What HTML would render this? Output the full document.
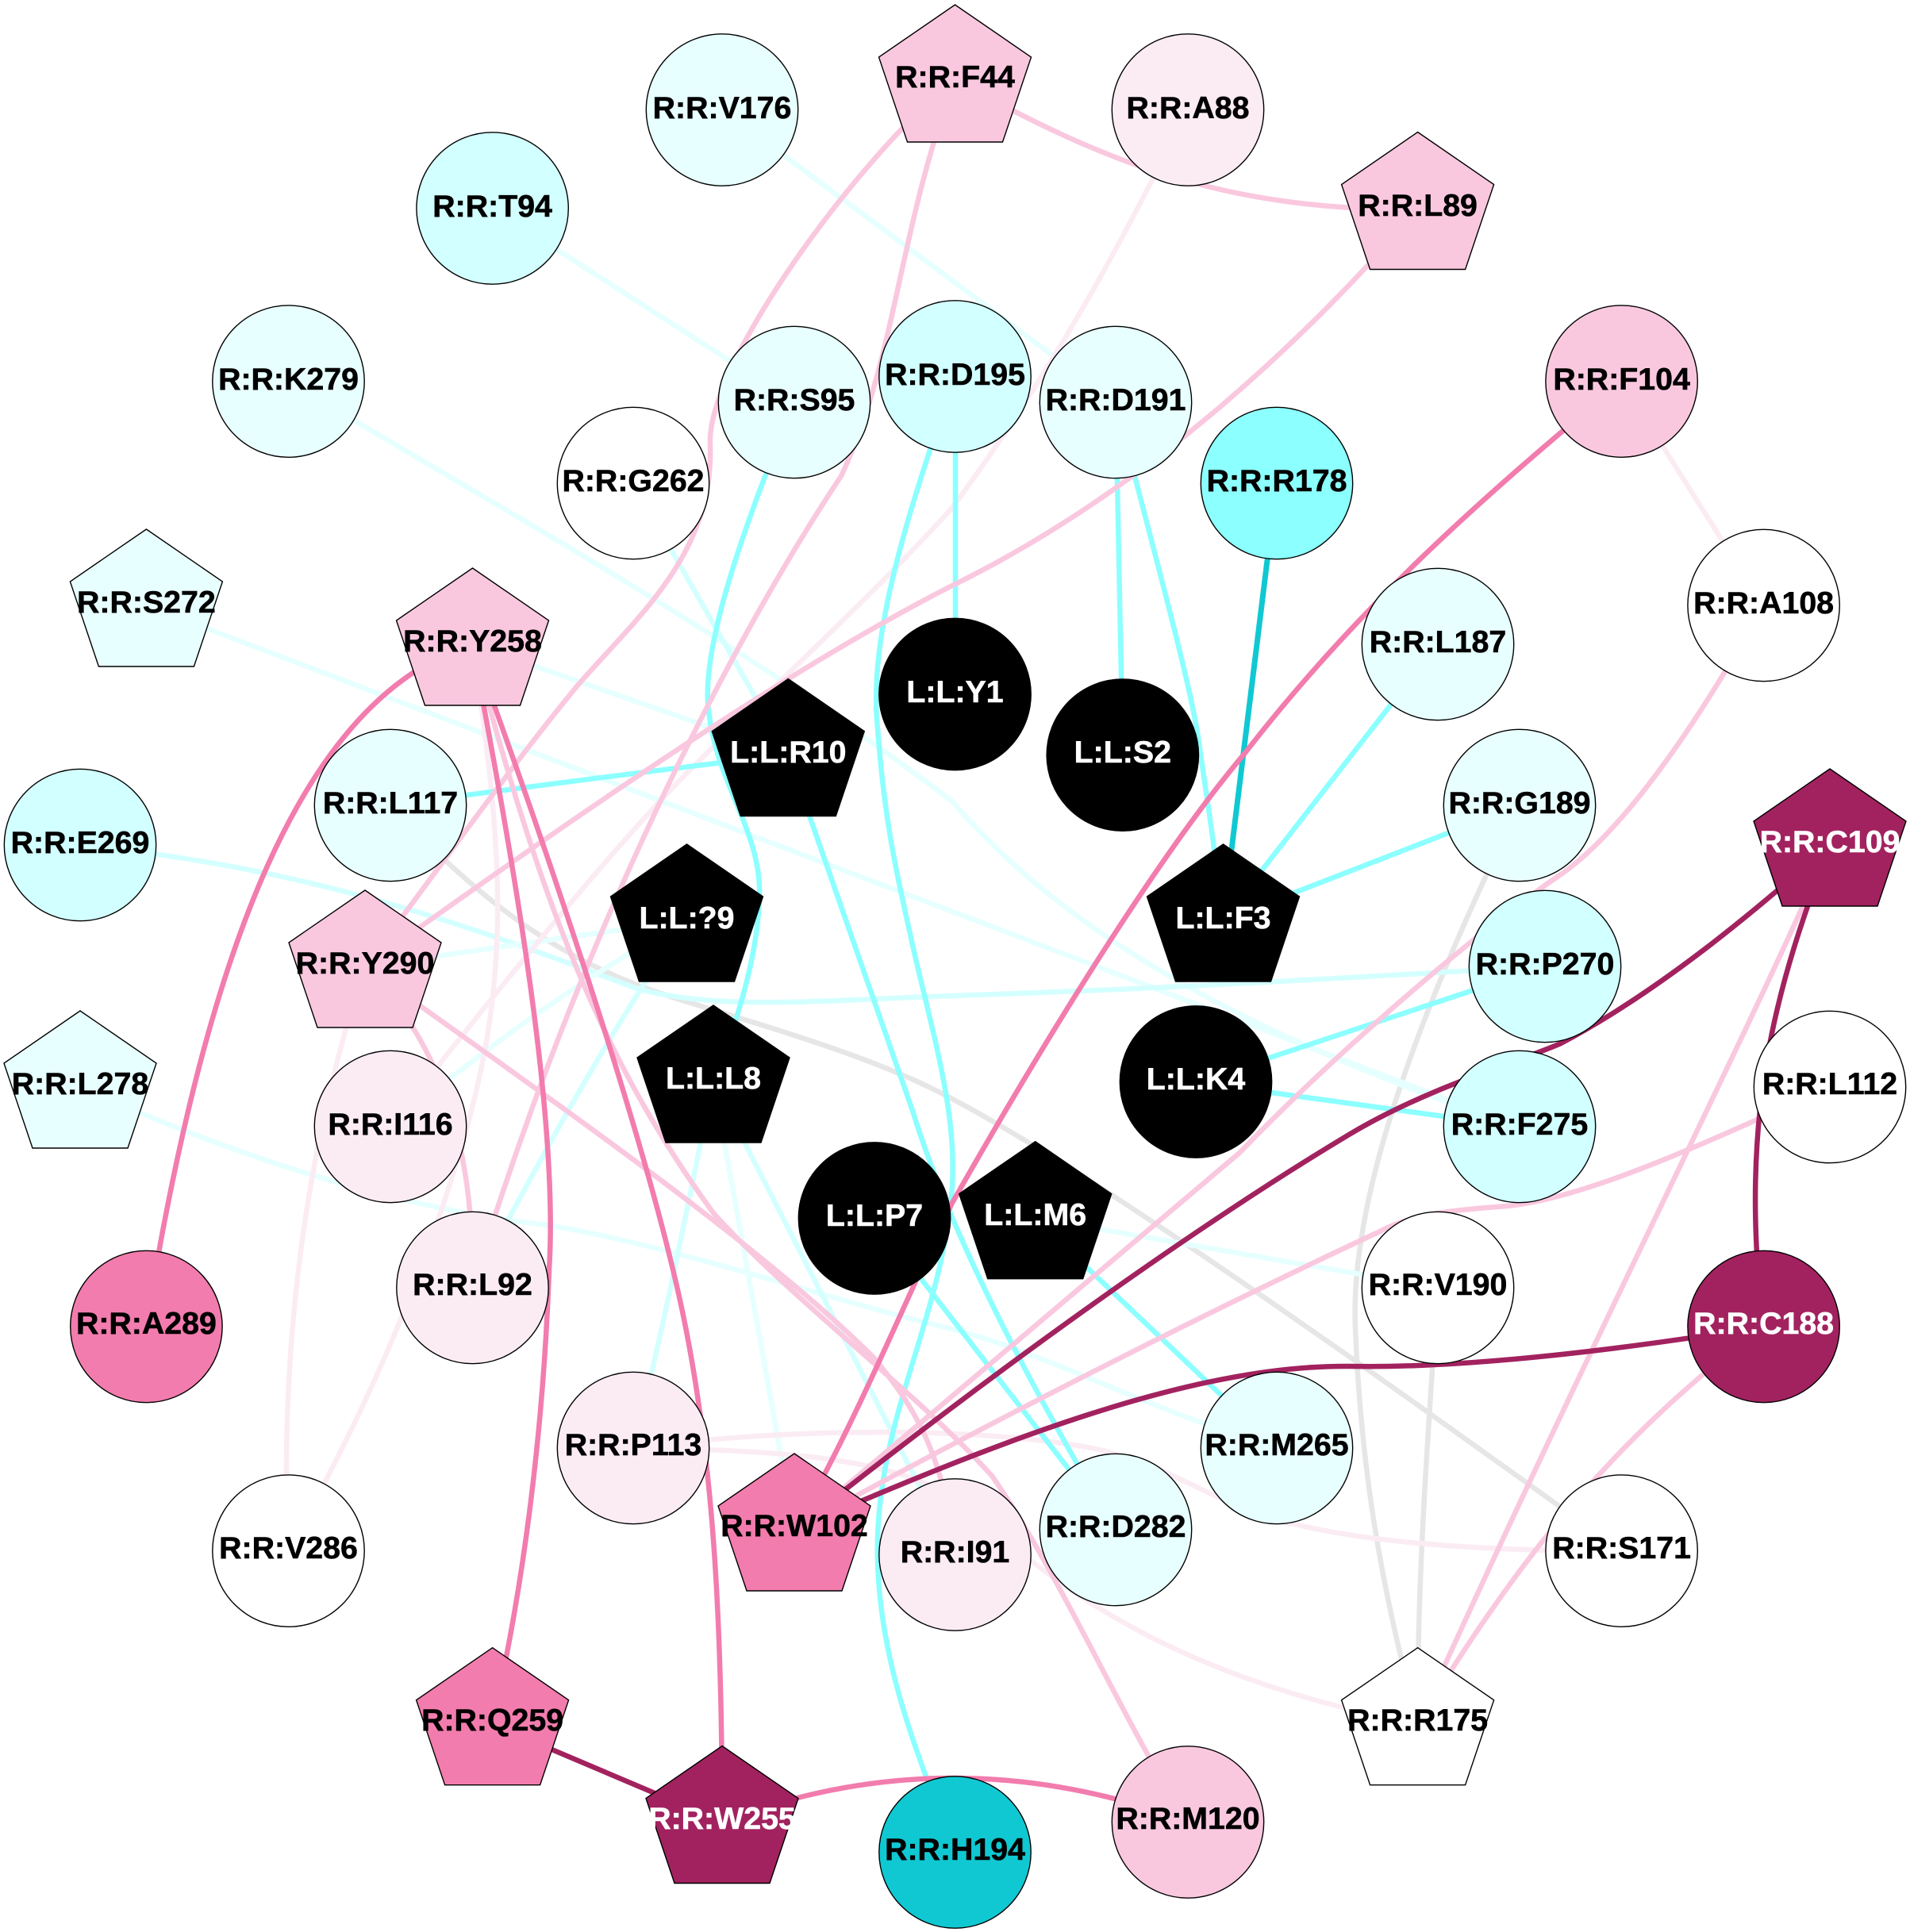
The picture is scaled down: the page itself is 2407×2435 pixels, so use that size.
<!DOCTYPE html>
<html><head><meta charset="utf-8"><style>
html,body{margin:0;padding:0;background:#fff}
svg{display:block}
text{font-family:"Liberation Sans",Arial,sans-serif;font-weight:bold;font-size:39.3px;text-anchor:middle;fill:#000;stroke:#000;stroke-width:.6}
text.w{fill:#fff;stroke:#fff}
.e path{fill:none;stroke-linecap:butt}
.c1{stroke:#E6FFFF;stroke-width:6.5}
.c2{stroke:#D4FFFF;stroke-width:6.5}
.c3{stroke:#8CFFFF;stroke-width:6.5}
.c4{stroke:#10C8D2;stroke-width:7}
.p1{stroke:#FBECF4;stroke-width:6.5}
.p2{stroke:#F9C8DF;stroke-width:6.5}
.p3{stroke:#F27CAD;stroke-width:6.5}
.d{stroke:#A2225F;stroke-width:6.5}
.g{stroke:#E6E6E6;stroke-width:6.5}
.n circle,.n polygon{stroke:#000;stroke-width:1.4}
</style></head><body>
<svg xmlns="http://www.w3.org/2000/svg" width="2407" height="2435" viewBox="0 0 2407 2435">
<rect width="2407" height="2435" fill="#fff"/>
<g class="e">
<path class="g" d="M492 1015 C600 1130 700 1210 842 1255 C950 1290 1100 1330 1200 1385 C1400 1490 1800 1780 2044 1955"/>
<path class="g" d="M1915 1015 C1800 1250 1700 1500 1708 1674 C1715 1850 1740 2000 1787 2173"/>
<path class="g" d="M1812 1623 C1800 1800 1785 2000 1787 2173"/>
<path class="c1" d="M620 262 L1001 507"/>
<path class="c1" d="M910 138 L1406 507"/>
<path class="c1" d="M363 481 C700 680 950 820 1200 1010 C1320 1150 1520 1290 1914 1420"/>
<path class="c1" d="M184 763 L1914 1420"/>
<path class="c1" d="M595 812 L993 951"/>
<path class="c2" d="M798 609 L993 951"/>
<path class="c2" d="M101 1065 C400 1095 600 1170 800 1245 C900 1275 1050 1260 1200 1255 C1500 1245 1700 1232 1947 1218"/>
<path class="c1" d="M101 1370 C280 1450 480 1520 689 1544 C850 1570 1050 1640 1200 1675 C1330 1710 1430 1770 1609 1825"/>
<path class="c1" d="M1304 1535 L1812 1623"/>
<path class="c1" d="M460 1218 Q660 1190 865 1160"/>
<path class="c1" d="M492 1420 C600 1330 720 1240 865 1160"/>
<path class="c2" d="M595 1623 C660 1500 760 1310 865 1160"/>
<path class="c2" d="M798 1825 C840 1660 870 1500 899 1363"/>
<path class="c1" d="M899 1363 L1001 1928"/>
<path class="c2" d="M899 1363 L1203 1960"/>
<path class="p1" d="M1497 139 C1420 290 1340 450 1200 640 C1100 750 1000 840 870 970 C780 1060 640 1230 492 1420"/>
<path class="p1" d="M2044 481 L2222 763"/>
<path class="p1" d="M595 812 C640 1100 640 1250 580 1450 C530 1620 460 1780 363 1955"/>
<path class="p1" d="M460 1218 C400 1400 350 1650 363 1955"/>
<path class="p1" d="M798 1825 C1000 1798 1250 1798 1390 1828 C1500 1858 1540 1903 1640 1923 C1750 1948 1900 1955 2044 1955"/>
<path class="p1" d="M798 1825 C1000 1828 1150 1838 1230 1908 C1350 2018 1500 2118 1787 2173"/>
<path class="c3" d="M1001 507 C930 680 880 830 894 903 C905 990 960 1050 957 1130 C955 1200 934 1267 910 1340"/>
<path class="c3" d="M1204 475 L1204 875"/>
<path class="c3" d="M1204 475 C1130 680 1095 820 1106 918 C1115 1040 1130 1100 1152 1200 C1180 1320 1210 1420 1198 1516 C1180 1680 1100 1800 1106 1972 C1110 2078 1140 2178 1204 2334"/>
<path class="c3" d="M1406 507 L1415 951"/>
<path class="c3" d="M1406 507 C1450 680 1500 860 1510 930 C1520 1000 1530 1060 1541 1160"/>
<path class="c3" d="M1812 812 L1541 1160"/>
<path class="c3" d="M1915 1015 L1541 1160"/>
<path class="c3" d="M1947 1218 L1507 1364"/>
<path class="c3" d="M1914 1420 L1507 1364"/>
<path class="c3" d="M492 1015 Q750 980 993 951"/>
<path class="c3" d="M993 951 C1030 1060 1090 1230 1150 1400 C1190 1530 1270 1700 1406 1928"/>
<path class="c3" d="M1102 1536 L1406 1928"/>
<path class="c3" d="M1304 1535 L1609 1825"/>
<path class="c4" d="M1609 609 L1541 1160"/>
<path class="p2" d="M1203 100 C1400 210 1550 265 1787 264"/>
<path class="p2" d="M1203 100 C1080 200 890 460 895 560 C900 700 800 780 727 865 C640 970 550 1100 460 1218"/>
<path class="p2" d="M1203 100 C1130 300 1130 450 1060 600 C920 810 730 1180 595 1623"/>
<path class="p2" d="M1787 264 C1600 480 1400 640 1200 738 C1000 840 750 1010 460 1218"/>
<path class="p2" d="M460 1218 C540 1300 600 1420 595 1623"/>
<path class="p2" d="M595 812 C660 1050 730 1300 900 1530 C1000 1640 1150 1750 1250 1860 C1340 1990 1420 2180 1497 2296"/>
<path class="p2" d="M460 1218 C700 1390 960 1570 1100 1710 C1150 1770 1190 1830 1203 1960"/>
<path class="p2" d="M2222 763 C2130 930 2040 1050 1970 1100 C1880 1160 1700 1310 1562 1453 C1400 1590 1200 1760 1001 1928"/>
<path class="p2" d="M2306 1370 C2150 1440 2000 1510 1900 1520 C1830 1525 1780 1530 1739 1552 C1550 1640 1250 1790 1001 1928"/>
<path class="p2" d="M2306 1065 C2205 1300 2000 1700 1787 2173"/>
<path class="p2" d="M2222 1672 C2050 1800 1920 1950 1787 2173"/>
<path class="p3" d="M2044 481 C1850 640 1700 780 1569 949 C1450 1090 1300 1340 1200 1516 C1140 1640 1080 1790 1001 1928"/>
<path class="p3" d="M595 812 C380 880 260 1200 184 1672"/>
<path class="p3" d="M595 812 C640 1050 705 1400 692 1600 C685 1800 660 2000 620 2173"/>
<path class="p3" d="M595 812 C700 1100 810 1430 855 1630 C900 1830 910 2050 910 2296"/>
<path class="p3" d="M910 2296 Q1200 2186 1497 2296"/>
<path class="d" d="M620 2173 L910 2296"/>
<path class="d" d="M2306 1065 C2240 1240 2190 1400 2222 1672"/>
<path class="d" d="M2306 1065 C2210 1150 2090 1250 1967 1315 C1910 1340 1800 1370 1700 1430 C1500 1550 1250 1730 1001 1928"/>
<path class="d" d="M2222 1672 C2050 1700 1850 1725 1700 1722 C1500 1720 1250 1820 1001 1928"/>
</g>
<g class="n">
<circle cx="910" cy="138.5" r="95.7" fill="#E8FFFF"/><text x="910" y="149">R:R:V176</text>
<circle cx="620.6" cy="262.5" r="95.7" fill="#D2FFFF"/><text x="620.6" y="273">R:R:T94</text>
<circle cx="363.5" cy="480.6" r="95.7" fill="#E8FFFF"/><text x="363.5" y="491">R:R:K279</text>
<polygon transform="translate(184.4,763)" points="0,-96 96,-30 60,77 -60,77 -96,-30" fill="#E8FFFF"/><text x="184.4" y="772">R:R:S272</text>
<polygon transform="translate(595.5,812)" points="0,-96 96,-30 60,77 -60,77 -96,-30" fill="#F9C8DF"/><text x="595.5" y="821">R:R:Y258</text>
<circle cx="798" cy="609" r="95.7" fill="#fff"/><text x="798" y="619">R:R:G262</text>
<circle cx="1001" cy="507" r="95.7" fill="#E8FFFF"/><text x="1001" y="517">R:R:S95</text>
<circle cx="1203.5" cy="474.5" r="95.7" fill="#D2FFFF"/><text x="1203.5" y="485">R:R:D195</text>
<circle cx="492" cy="1015" r="95.7" fill="#E8FFFF"/><text x="492" y="1025">R:R:L117</text>
<circle cx="101" cy="1065" r="95.7" fill="#D2FFFF"/><text x="101" y="1075">R:R:E269</text>
<polygon transform="translate(460,1218)" points="0,-96 96,-30 60,77 -60,77 -96,-30" fill="#F9C8DF"/><text x="460" y="1227">R:R:Y290</text>
<polygon transform="translate(101,1370)" points="0,-96 96,-30 60,77 -60,77 -96,-30" fill="#E8FFFF"/><text x="101" y="1379">R:R:L278</text>
<circle cx="492" cy="1420" r="95.7" fill="#FBECF4"/><text x="492" y="1430">R:R:I116</text>
<circle cx="595.5" cy="1623" r="95.7" fill="#FBECF4"/><text x="595.5" y="1632">R:R:L92</text>
<circle cx="184.4" cy="1672" r="95.7" fill="#F27CAD"/><text x="184.4" y="1681">R:R:A289</text>
<circle cx="798" cy="1825" r="95.7" fill="#FBECF4"/><text x="798" y="1834">R:R:P113</text>
<circle cx="363.5" cy="1954.6" r="95.7" fill="#fff"/><text x="363.5" y="1964">R:R:V286</text>
<polygon transform="translate(1001,1928)" points="0,-96 96,-30 60,77 -60,77 -96,-30" fill="#F27CAD"/><text x="1001" y="1936">R:R:W102</text>
<polygon transform="translate(620.6,2172.7)" points="0,-96 96,-30 60,77 -60,77 -96,-30" fill="#F27CAD"/><text x="620.6" y="2181">R:R:Q259</text>
<polygon transform="translate(910,2296.5)" points="0,-96 96,-30 60,77 -60,77 -96,-30" fill="#A2225F"/><text class="w" x="910" y="2305">R:R:W255</text>
<circle cx="1203.5" cy="2334.5" r="95.7" fill="#10C8D2"/><text x="1203.5" y="2344">R:R:H194</text>
<circle cx="1203.5" cy="1959.5" r="95.7" fill="#FBECF4"/><text x="1203.5" y="1969">R:R:I91</text>
<circle cx="1497" cy="2296.5" r="95.7" fill="#F9C8DF"/><text x="1497" y="2305">R:R:M120</text>
<polygon transform="translate(1786.6,2172.7)" points="0,-96 96,-30 60,77 -60,77 -96,-30" fill="#fff"/><text x="1786.6" y="2181">R:R:R175</text>
<circle cx="2043.6" cy="1954.6" r="95.7" fill="#fff"/><text x="2043.6" y="1964">R:R:S171</text>
<circle cx="1406" cy="1928" r="95.7" fill="#E8FFFF"/><text x="1406" y="1937">R:R:D282</text>
<circle cx="1609" cy="1825" r="95.7" fill="#E8FFFF"/><text x="1609" y="1834">R:R:M265</text>
<circle cx="2222.6" cy="1672" r="95.7" fill="#A2225F"/><text class="w" x="2222.6" y="1681">R:R:C188</text>
<circle cx="1812" cy="1623" r="95.7" fill="#fff"/><text x="1812" y="1632">R:R:V190</text>
<circle cx="1915" cy="1420" r="95.7" fill="#D2FFFF"/><text x="1915" y="1430">R:R:F275</text>
<circle cx="2306" cy="1370" r="95.7" fill="#fff"/><text x="2306" y="1379">R:R:L112</text>
<circle cx="1947" cy="1218" r="95.7" fill="#D2FFFF"/><text x="1947" y="1228">R:R:P270</text>
<polygon transform="translate(2306,1065)" points="0,-96 96,-30 60,77 -60,77 -96,-30" fill="#A2225F"/><text class="w" x="2306" y="1074">R:R:C109</text>
<circle cx="1915" cy="1015" r="95.7" fill="#E8FFFF"/><text x="1915" y="1025">R:R:G189</text>
<circle cx="1812" cy="812" r="95.7" fill="#E8FFFF"/><text x="1812" y="822">R:R:L187</text>
<circle cx="2222.6" cy="763" r="95.7" fill="#fff"/><text x="2222.6" y="773">R:R:A108</text>
<circle cx="2043.6" cy="480.6" r="95.7" fill="#F9C8DF"/><text x="2043.6" y="491">R:R:F104</text>
<circle cx="1609" cy="609" r="95.7" fill="#8CFFFF"/><text x="1609" y="619">R:R:R178</text>
<circle cx="1406" cy="507" r="95.7" fill="#E8FFFF"/><text x="1406" y="517">R:R:D191</text>
<polygon transform="translate(1786.6,262.5)" points="0,-96 96,-30 60,77 -60,77 -96,-30" fill="#F9C8DF"/><text x="1786.6" y="272">R:R:L89</text>
<circle cx="1497" cy="138.5" r="95.7" fill="#FBECF4"/><text x="1497" y="149">R:R:A88</text>
<polygon transform="translate(1203.5,102)" points="0,-96 96,-30 60,77 -60,77 -96,-30" fill="#F9C8DF"/><text x="1203.5" y="110">R:R:F44</text>
<polygon transform="translate(993.3,951.6)" points="0,-96 96,-30 60,77 -60,77 -96,-30" fill="#000"/><text class="w" x="993.3" y="961">L:L:R10</text>
<circle cx="1203.5" cy="875" r="95.7" fill="#000"/><text class="w" x="1203.5" y="885">L:L:Y1</text>
<circle cx="1414.8" cy="951.6" r="95.7" fill="#000"/><text class="w" x="1414.8" y="961">L:L:S2</text>
<polygon transform="translate(1541.5,1160)" points="0,-96 96,-30 60,77 -60,77 -96,-30" fill="#000"/><text class="w" x="1541.5" y="1170">L:L:F3</text>
<circle cx="1507" cy="1363.5" r="95.7" fill="#000"/><text class="w" x="1507" y="1373">L:L:K4</text>
<polygon transform="translate(1304.7,1534.7)" points="0,-96 96,-30 60,77 -60,77 -96,-30" fill="#000"/><text class="w" x="1304.7" y="1544">L:L:M6</text>
<circle cx="1102" cy="1535.5" r="95.7" fill="#000"/><text class="w" x="1102" y="1545">L:L:P7</text>
<polygon transform="translate(899,1363)" points="0,-96 96,-30 60,77 -60,77 -96,-30" fill="#000"/><text class="w" x="899" y="1372">L:L:L8</text>
<polygon transform="translate(865.5,1160)" points="0,-96 96,-30 60,77 -60,77 -96,-30" fill="#000"/><text class="w" x="865.5" y="1170">L:L:?9</text>
</g>
</svg>
</body></html>
